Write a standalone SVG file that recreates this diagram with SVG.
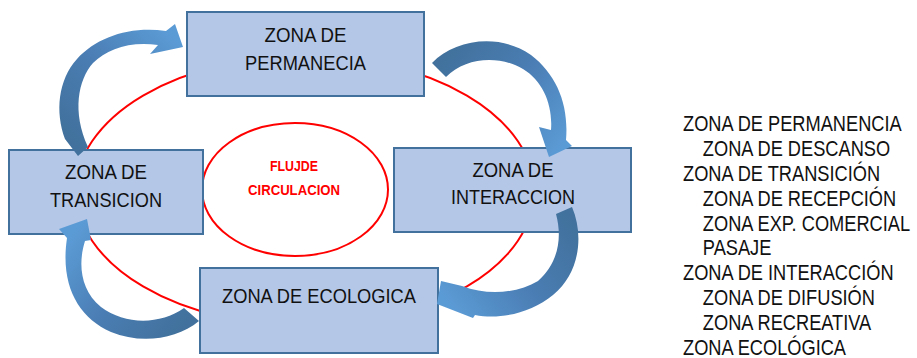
<svg xmlns="http://www.w3.org/2000/svg" width="917" height="358" viewBox="0 0 917 358">
<style>
.box{fill:#b4c7e7;stroke:#41719c;stroke-width:2}
.lbl{font-family:"Liberation Sans",Arial,sans-serif;font-size:21px;fill:#111;text-anchor:middle}
.red{fill:none;stroke:#ff0000;stroke-width:2}
.flow{font-family:"Liberation Sans",Arial,sans-serif;font-size:14px;font-weight:bold;fill:#ff0000;text-anchor:middle}
.list{font-family:"Liberation Sans",Arial,sans-serif;font-size:22.5px;fill:#111}
</style>
<defs>
<linearGradient id="g1" gradientUnits="userSpaceOnUse" x1="70" y1="140" x2="172" y2="35"><stop offset="0" stop-color="#41719c"/><stop offset="0.5" stop-color="#4a7db3"/><stop offset="1" stop-color="#5b9bd5"/></linearGradient>
<linearGradient id="g2" gradientUnits="userSpaceOnUse" x1="440" y1="60" x2="560" y2="150"><stop offset="0" stop-color="#41719c"/><stop offset="0.5" stop-color="#4a7db3"/><stop offset="1" stop-color="#5b9bd5"/></linearGradient>
<linearGradient id="g3" gradientUnits="userSpaceOnUse" x1="565" y1="210" x2="445" y2="300"><stop offset="0" stop-color="#41719c"/><stop offset="0.5" stop-color="#4a7db3"/><stop offset="1" stop-color="#5b9bd5"/></linearGradient>
<linearGradient id="g4" gradientUnits="userSpaceOnUse" x1="190" y1="318" x2="75" y2="230"><stop offset="0" stop-color="#41719c"/><stop offset="0.5" stop-color="#4a7db3"/><stop offset="1" stop-color="#5b9bd5"/></linearGradient>
</defs>
<rect width="917" height="358" fill="#fff"/>
<ellipse id="ring" class="red" cx="305" cy="191" rx="229" ry="135"/>
<g id="flujo">
<ellipse cx="295" cy="189.5" rx="93" ry="66.5" fill="#fff" stroke="#ff0000" stroke-width="2"/>
<text class="flow" x="294" y="171" textLength="48" lengthAdjust="spacingAndGlyphs">FLUJDE</text>
<text class="flow" x="294" y="195" textLength="92" lengthAdjust="spacingAndGlyphs">CIRCULACION</text>
</g>
<g id="permanencia">
<rect class="box" x="187" y="12" width="237" height="84"/>
<text class="lbl" x="305.5" y="42" textLength="82" lengthAdjust="spacingAndGlyphs">ZONA DE</text>
<text class="lbl" x="305.5" y="70" textLength="121" lengthAdjust="spacingAndGlyphs">PERMANECIA</text>
</g>
<g id="transicion">
<rect class="box" x="9" y="150" width="194" height="84"/>
<text class="lbl" x="106" y="179" textLength="82" lengthAdjust="spacingAndGlyphs">ZONA DE</text>
<text class="lbl" x="106" y="207" textLength="112" lengthAdjust="spacingAndGlyphs">TRANSICION</text>
</g>
<g id="interaccion">
<rect class="box" x="394" y="148" width="237" height="84"/>
<text class="lbl" x="513" y="177" textLength="81" lengthAdjust="spacingAndGlyphs">ZONA DE</text>
<text class="lbl" x="513" y="204" textLength="124" lengthAdjust="spacingAndGlyphs">INTERACCION</text>
</g>
<g id="ecologica">
<rect class="box" x="200" y="268" width="238" height="85"/>
<text class="lbl" x="319" y="303" textLength="194" lengthAdjust="spacingAndGlyphs">ZONA DE ECOLOGICA</text>
</g>
<g id="connectors">
<path fill="url(#g1)" d="M78,156 L65,139 C55,112 58,80 77,59 C97,37 130,26 166,31 L175,24 L183,47 L150,54 L158,45 C130,41 107,49 93,63 C78,80 72,112 88,147 Z"/>
<path fill="url(#g2)" d="M432,63 C455,39 500,33 531,55 C557,75 569,105 566,140 L572,146 L549,157 L539,127 L551,130 C553,105 543,81 523,69 C499,55 466,57 446,77 Z"/>
<path fill="url(#g3)" d="M556,214 L572,207 C584,235 580,273 553,295 C531,313 500,320 475,315 L473,318 L437,304 L441,281 L462,286 C488,296 518,293 538,281 C557,264 563,240 556,214 Z"/>
<path fill="url(#g4)" d="M199,321 C176,340 140,344 111,332 C78,317 60,285 67,238 L59,229 L87,219 L91,240 L85,241 C78,263 80,290 101,307 C125,325 160,325 184,308 Z"/>
</g>
<g id="legend" class="list" transform="translate(683,0) scale(0.81,1)">
<text x="0" y="131.5">ZONA DE PERMANENCIA</text>
<text x="24.5" y="156.3">ZONA DE DESCANSO</text>
<text x="0" y="181.1">ZONA DE TRANSICIÓN</text>
<text x="24.5" y="205.9">ZONA DE RECEPCIÓN</text>
<text x="24.5" y="230.7">ZONA EXP. COMERCIAL</text>
<text x="24.5" y="255.5">PASAJE</text>
<text x="0" y="280.3">ZONA DE INTERACCIÓN</text>
<text x="24.5" y="305.1">ZONA DE DIFUSIÓN</text>
<text x="24.5" y="329.9">ZONA RECREATIVA</text>
<text x="0" y="354.7">ZONA ECOLÓGICA</text>
</g>
</svg>
